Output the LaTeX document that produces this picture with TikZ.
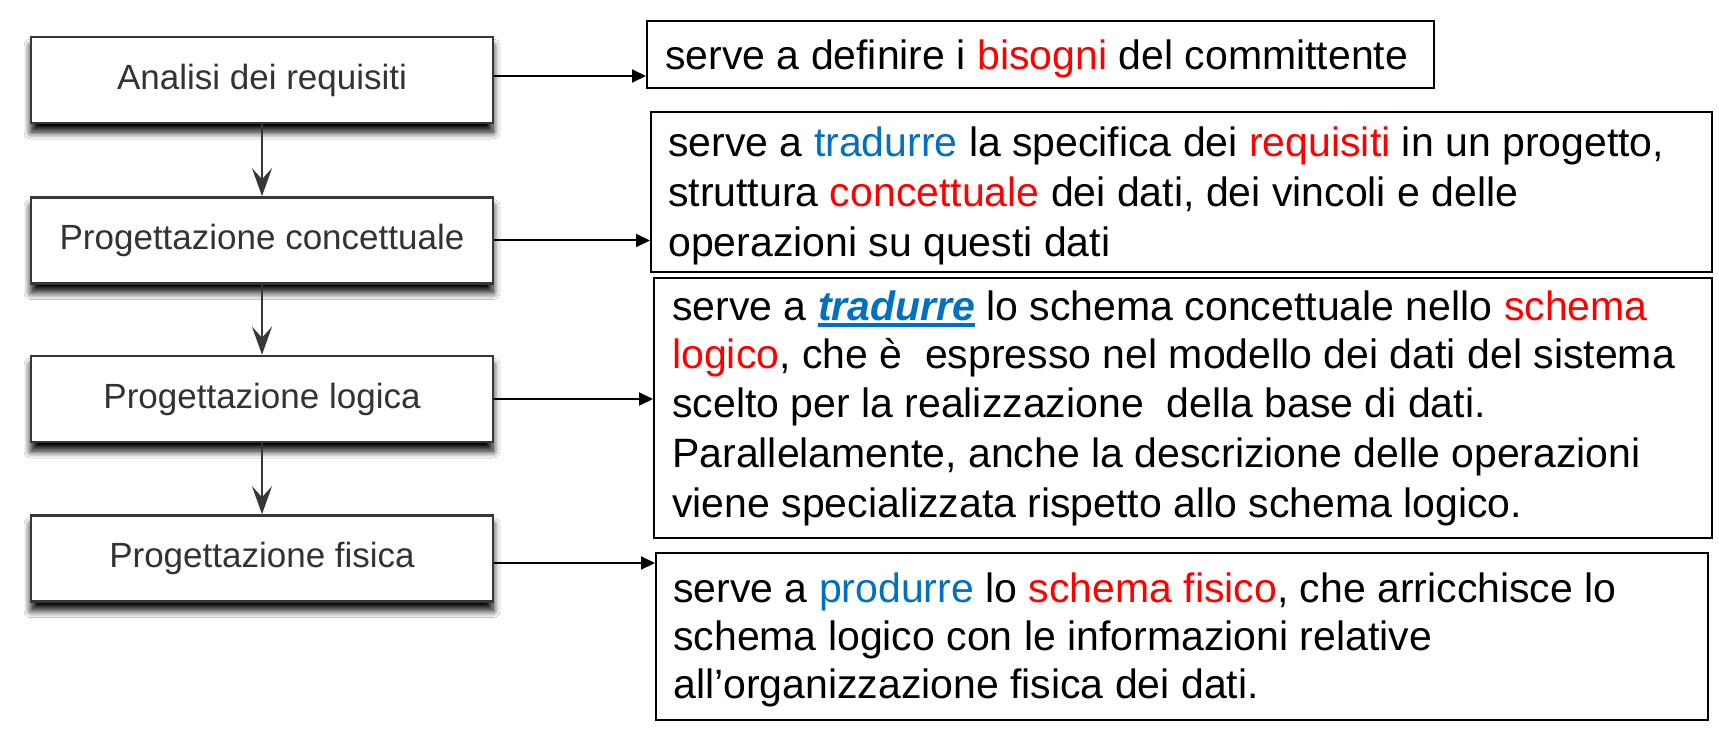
\documentclass[tikz,border=0pt]{standalone}
\usepackage{fontspec}
\setmainfont{Liberation Sans}
\usetikzlibrary{arrows.meta,shadows.blur}
\definecolor{hired}{RGB}{255,0,0}
\definecolor{hiblue}{RGB}{0,112,192}
\definecolor{phasegray}{RGB}{55,55,55}
% thick underline used for the emphasised verb
\newcommand\thickul[1]{\setbox0=\hbox{#1}\rlap{\rule[-7pt]{\wd0}{4.5pt}}\box0}
\newcommand\rd[1]{\textcolor{hired}{#1}}
\newcommand\bl[1]{\textcolor{hiblue}{#1}}
\begin{document}
\begin{tikzpicture}[x=1pt,y=-1pt,
  phase/.style={draw=phasegray, line width=2.6pt, fill=white, inner sep=0pt,
    minimum width=462pt, minimum height=86pt, text=black!80,
    font=\fontsize{35}{40}\selectfont,
    blur shadow={shadow xshift=0pt, shadow yshift=-9pt, shadow blur radius=7pt,
      shadow blur steps=10, shadow opacity=100}},
  descbox/.style={draw=black, line width=2pt, fill=white, inner sep=0pt},
  line/.style={anchor=base west, inner sep=0pt, font=\fontsize{41}{49}\selectfont},
  down/.style={draw=phasegray, line width=2.6pt,
    -{Stealth[length=28pt, width=20pt, inset=11pt]}},
  side/.style={draw=black, line width=2pt, -{Triangle[length=14pt, width=13pt]}}]
\useasboundingbox (0,0) rectangle (1719,746);
\fill[white] (0,0) rectangle (1719,746);

% design phases
\node[phase] (p1) at (262,80)  {Analisi dei requisiti};
\node[phase] (p2) at (262,240.5) {Progettazione concettuale};
\node[phase] (p3) at (262,399) {Progettazione logica};
\node[phase] (p4) at (262,558.5) {Progettazione fisica};

\draw[down] (p1.south) -- (p2.north);
\draw[down] (p2.south) -- (p3.north);
\draw[down] (p3.south) -- (p4.north);

% description boxes
\node[descbox, minimum width=787pt,  minimum height=67pt]  (dA) at (1040.5,54.5) {};
\node[descbox, minimum width=1061pt, minimum height=160pt] (dB) at (1181.5,192) {};
\node[descbox, minimum width=1058pt, minimum height=260pt] (dC) at (1183,408) {};
\node[descbox, minimum width=1052pt, minimum height=167pt] (dD) at (1182,636.5) {};

\draw[side] ([yshift=4pt]p1.east) -- ([yshift=4pt]p1.east -| dA.west);
\draw[side] (p2.east) -- (p2.east -| dB.west);
\draw[side] (p3.east) -- (p3.east -| dC.west);
\draw[side] ([yshift=-4.5pt]p4.east) -- ([yshift=-4.5pt]p4.east -| dD.west);

% texts
\node[line] (a1) at (665,70) {serve a definire i \rd{bisogni} del committente};

\node[line] (b1) at (668,157) {serve a \bl{tradurre} la specifica dei \rd{requisiti} in un progetto,};
\node[line] (b2) at (668,207) {struttura \rd{concettuale} dei dati, dei vincoli e delle};
\node[line] (b3) at (668,257) {operazioni su questi dati};

\node[line] (c1) at (672,320) {serve a \textcolor{hiblue}{\thickul{\textbf{\textit{tradurre}}}} lo schema concettuale nello \rd{schema}};
\node[line] (c2) at (672,368) {\rd{logico}, che è\ \ espresso nel modello dei dati del sistema};
\node[line] (c3) at (672,417) {scelto per la realizzazione\ \ della base di dati.};
\node[line] (c4) at (672,467) {Parallelamente, anche la descrizione delle operazioni};
\node[line] (c5) at (672,517) {viene specializzata rispetto allo schema logico.};

\node[line] (d1) at (673,602) {serve a \bl{produrre} lo \rd{schema fisico}, che arricchisce lo};
\node[line] (d2) at (673,650) {schema logico con le informazioni relative};
\node[line] (d3) at (673,698) {all’organizzazione fisica dei dati.};
\end{tikzpicture}
\end{document}
